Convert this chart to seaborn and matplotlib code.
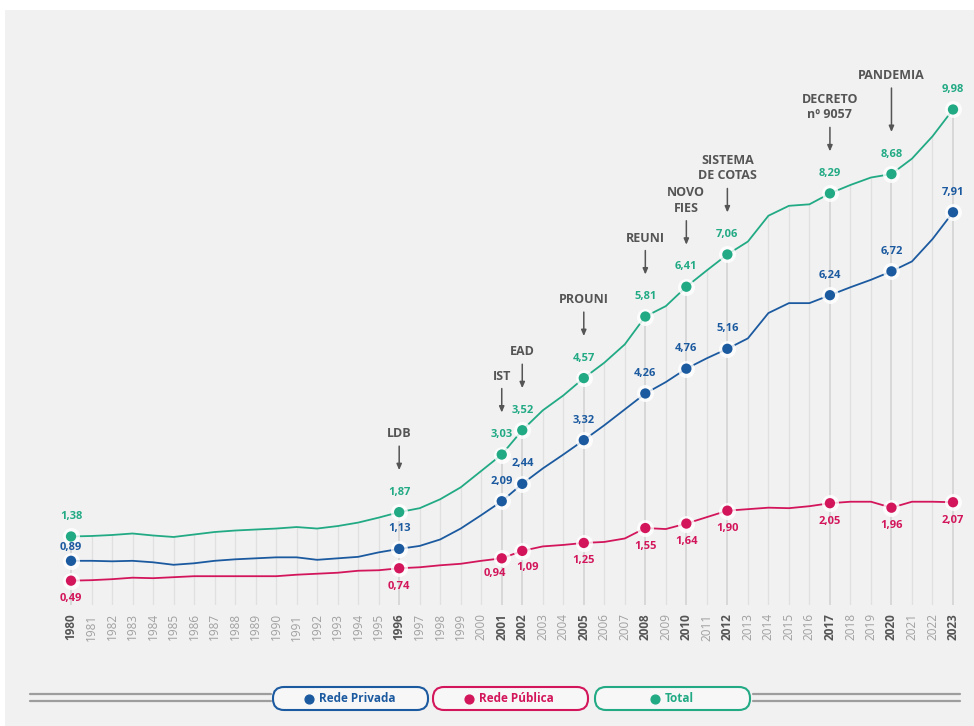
import matplotlib
matplotlib.use("Agg")
import matplotlib.pyplot as plt
from matplotlib.patches import FancyBboxPatch, Rectangle
import seaborn as sns
import pandas as pd

# matrículas no ensino superior (milhões)
years = list(range(1980, 2024))
total = [1.38, 1.39, 1.41, 1.44, 1.40, 1.37, 1.42, 1.47, 1.50, 1.52, 1.54, 1.57, 1.54, 1.59, 1.66,
         1.76, 1.87, 1.95, 2.13, 2.37, 2.70, 3.03, 3.52, 3.92, 4.22, 4.57, 4.88, 5.25, 5.81, 6.02,
         6.41, 6.74, 7.06, 7.32, 7.84, 8.04, 8.07, 8.29, 8.46, 8.61, 8.68, 8.99, 9.44, 9.98]
privada = [0.89, 0.89, 0.88, 0.89, 0.86, 0.81, 0.84, 0.89, 0.92, 0.94, 0.96, 0.96, 0.91, 0.94, 0.97,
           1.06, 1.13, 1.19, 1.32, 1.54, 1.81, 2.09, 2.44, 2.75, 3.03, 3.32, 3.62, 3.94, 4.26, 4.49,
           4.76, 4.97, 5.16, 5.37, 5.88, 6.08, 6.08, 6.24, 6.40, 6.55, 6.72, 6.92, 7.37, 7.91]
publica = [0.49, 0.50, 0.52, 0.55, 0.54, 0.56, 0.58, 0.58, 0.58, 0.58, 0.58, 0.61, 0.63, 0.65, 0.69,
           0.70, 0.74, 0.76, 0.80, 0.83, 0.89, 0.94, 1.09, 1.18, 1.21, 1.25, 1.27, 1.34, 1.55, 1.53,
           1.64, 1.77, 1.90, 1.93, 1.96, 1.95, 1.99, 2.05, 2.08, 2.08, 1.96, 2.08, 2.08, 2.07]

highlight = [1980, 1996, 2001, 2002, 2005, 2008, 2010, 2012, 2017, 2020, 2023]

events = ["LDB", "IST", "EAD", "PROUNI", "REUNI", "NOVO\nFIES", "SISTEMA\nDE COTAS",
          "DECRETO\nnº 9057", "PANDEMIA"]
event_years = [1996, 2001, 2002, 2005, 2008, 2010, 2012, 2017, 2020]

series = ["Rede Privada", "Rede Pública", "Total"]
colors = {"Rede Privada": "#1c5aa0", "Rede Pública": "#d3165b", "Total": "#22aa85"}

df = pd.DataFrame({"ano": years * 3,
                   "valor": privada + publica + total,
                   "rede": ["Rede Privada"] * 44 + ["Rede Pública"] * 44 + ["Total"] * 44})
pts = df[df["ano"].isin(highlight)]

sns.set_style("white")
plt.rcParams["font.family"] = ["Open Sans", "DejaVu Sans"]

W, H = 974, 726
fig = plt.figure(figsize=(W / 100, H / 100), dpi=100)
fig.patch.set_facecolor("white")

# background / legend layer in pixel coords
bg = fig.add_axes([0, 0, 1, 1], zorder=0)
bg.set_xlim(0, W)
bg.set_ylim(H, 0)
bg.axis("off")
bg.add_patch(Rectangle((5, 10), W - 5, H - 10, color="#f1f1f1", lw=0))

ax = fig.add_axes([55 / W, (H - 605) / H, 910 / W, (605 - 60) / H], zorder=1)
ax.set_facecolor("none")
ax.set_xlim(1979.22, 2023.585)
ax.set_ylim(0, 545 / 49.65)

# vertical year guides up to the total line
norm_years = [y for y in years if y not in highlight]
ax.vlines(norm_years, 0, [t for y, t in zip(years, total) if y not in highlight],
          color="#e0e0e0", lw=0.9, zorder=0)
ax.vlines(highlight, 0, [t for y, t in zip(years, total) if y in highlight],
          color="#d6d6d6", lw=1.3, zorder=0)

sns.lineplot(data=df, x="ano", y="valor", hue="rede", palette=colors, linewidth=1.3,
             legend=False, ax=ax, zorder=2)
sns.scatterplot(data=pts, x="ano", y="valor", color="white", s=150, alpha=0.8,
                linewidth=0, legend=False, ax=ax, zorder=3)
sns.scatterplot(data=pts, x="ano", y="valor", hue="rede", palette=colors, s=55,
                linewidth=0, legend=False, ax=ax, zorder=4)

lookup = {"Total": dict(zip(years, total)), "Rede Privada": dict(zip(years, privada)),
          "Rede Pública": dict(zip(years, publica))}

# value labels (offsets in px)
label_off = {"Total": {}, "Rede Privada": {1980: (0, 13)}, "Rede Pública": {2001: (-7, -15), 2002: (5, -17)}}
for s in series:
    for y in highlight:
        v = lookup[s][y]
        default = (0, -18) if s == "Rede Pública" else (0, 20)
        dx, dy = label_off[s].get(y, default)
        ax.annotate(f"{v:.2f}".replace(".", ","), (y, v), xytext=(dx * 0.72, dy * 0.72),
                    textcoords="offset points", ha="center", va="center",
                    fontsize=8, fontweight="bold", color=colors[s], zorder=5)

# event annotations
for ev, y in zip(events, event_years):
    v = lookup["Total"][y]
    length = 44 if ev == "PANDEMIA" else 24
    gap = 42
    ax.annotate("", xy=(y, v), xytext=(0, (gap + length) * 0.72), textcoords="offset points",
                arrowprops=dict(arrowstyle="-|>,head_length=0.35,head_width=0.15", color="#555555",
                                lw=1.1, shrinkA=0, shrinkB=gap * 0.72))
    ax.annotate(ev, (y, v), xytext=(0, (gap + length + 6) * 0.72), textcoords="offset points",
                ha="center", va="bottom", fontsize=9, fontweight="bold", color="#555555",
                linespacing=1.25)

# x axis
ax.set_xticks(years)
ax.set_xticklabels([str(y) for y in years], rotation=90, fontsize=8.5)
for lab, y in zip(ax.get_xticklabels(), years):
    if y in highlight:
        lab.set_fontweight("bold")
        lab.set_color("#555555")
    else:
        lab.set_color("#a0a0a0")
ax.tick_params(axis="x", length=0, pad=6)
ax.set_yticks([])
ax.set_xlabel("")
ax.set_ylabel("")
sns.despine(ax=ax, left=True, bottom=True)

# legend
for yy in (693.5, 700.5):
    bg.plot([30, 271], [yy, yy], color="#9d9d9d", lw=1.6)
    bg.plot([753, 960], [yy, yy], color="#9d9d9d", lw=1.6)
boxes = [(273, 428), (433, 588), (595, 750)]
for s, (x0, x1) in zip(series, boxes):
    bg.add_patch(FancyBboxPatch((x0, 687), x1 - x0, 23,
                                boxstyle="round,pad=0,rounding_size=11",
                                fc="#f7f7f7", ec=colors[s], lw=1.5))
    dotx = x0 + 36 if s != "Total" else x0 + 60
    bg.scatter([dotx], [698.5], s=40, color=colors[s], zorder=3)
    bg.text(dotx + 10, 698.5, s, color=colors[s], fontsize=8.5, fontweight="bold",
            ha="left", va="center")

fig.savefig("out.png", dpi=100)
